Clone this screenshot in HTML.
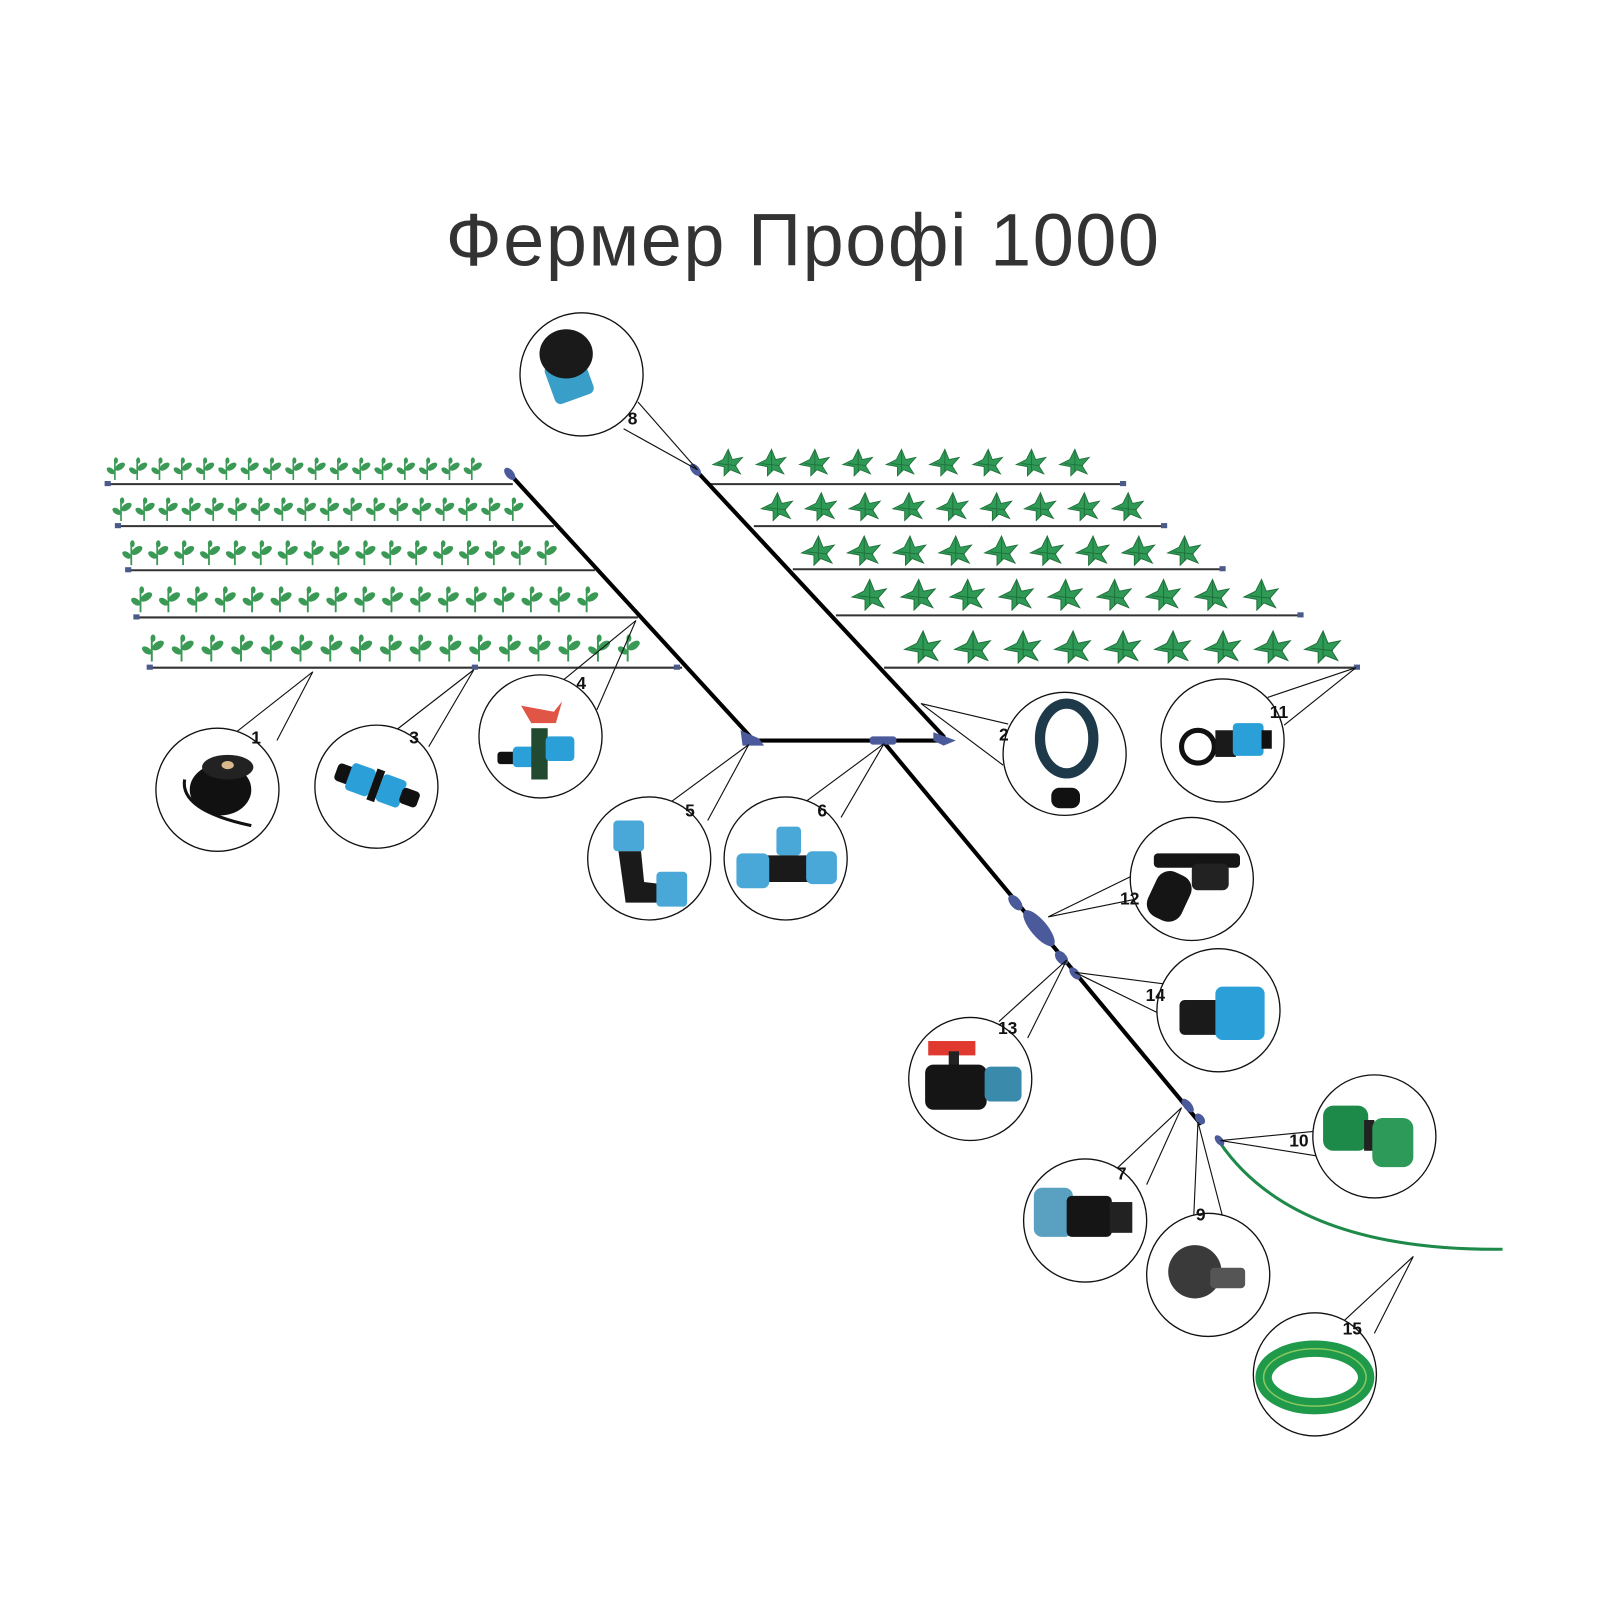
<!DOCTYPE html>
<html><head><meta charset="utf-8">
<style>
html,body{margin:0;padding:0;background:#fff;}
svg{display:block;}
text{font-family:"Liberation Sans",sans-serif;}
.num{font-weight:bold;font-size:17px;fill:#111;}
.co{fill:#fff;stroke:#111;stroke-width:1.3;}
.tl{stroke:#111;stroke-width:1.1;fill:none;}
</style></head><body>
<svg id="s" width="1600" height="1600" viewBox="0 0 1560 1560" xmlns="http://www.w3.org/2000/svg">
<defs>
<g id="sp">
<path d="M0 0 V-20" stroke="#3a9a55" stroke-width="1.6"/>
<ellipse cx="5" cy="-13" rx="5.5" ry="3" fill="#3a9a55" transform="rotate(-35 5 -13)"/>
<ellipse cx="-4" cy="-9" rx="4.5" ry="2.6" fill="#3a9a55" transform="rotate(35 -4 -9)"/>
<ellipse cx="1" cy="-19" rx="2" ry="3" fill="#3a9a55"/>
</g>
<g id="st">
<path d="M0 -14 L4 -4 L14 -6 L7 2 L12 10 L2 6 L-4 12 L-4 3 L-15 1 L-5 -4 Z" fill="#2e9a55" stroke="#1f6e3a" stroke-width="0.8"/>
<path d="M0 -12 L0 8 M-10 0 L8 2" stroke="#1f6e3a" stroke-width="0.8"/>
</g>
</defs>

<text x="783" y="259" text-anchor="middle" font-size="72" fill="#333" letter-spacing="1.5">Фермер Профі 1000</text>

<g id="plants"></g>

<g stroke="#333" stroke-width="2">
<line x1="105" y1="472" x2="500" y2="472"/>
<line x1="115" y1="513" x2="540" y2="513"/>
<line x1="125" y1="556" x2="580" y2="556"/>
<line x1="133" y1="602" x2="622" y2="602"/>
<line x1="146" y1="651" x2="665" y2="651"/>
<line x1="690" y1="472" x2="1095" y2="472"/>
<line x1="735" y1="513" x2="1135" y2="513"/>
<line x1="773" y1="555" x2="1192" y2="555"/>
<line x1="815" y1="600" x2="1268" y2="600"/>
<line x1="862" y1="651" x2="1325" y2="651"/>
</g>
<g fill="#4a5a8a">
<rect x="102" y="469" width="6" height="5"/><rect x="112" y="510" width="6" height="5"/><rect x="122" y="553" width="6" height="5"/><rect x="130" y="599" width="6" height="5"/><rect x="143" y="648" width="6" height="5"/>
<rect x="1092" y="469" width="6" height="5"/><rect x="1132" y="510" width="6" height="5"/><rect x="1189" y="552" width="6" height="5"/><rect x="1265" y="597" width="6" height="5"/><rect x="1320" y="648" width="6" height="5"/>
<rect x="460" y="648" width="6" height="5"/><rect x="657" y="648" width="6" height="5"/>
</g>

<g stroke="#000" stroke-width="4" stroke-linecap="round" fill="none">
<line x1="497" y1="462" x2="735" y2="722"/>
<line x1="735" y1="722" x2="925" y2="722"/>
<line x1="678" y1="458" x2="920" y2="718"/>
<line x1="862" y1="724" x2="1170" y2="1095"/>
</g>
<path d="M1188 1112 Q1260 1220 1465 1218" stroke="#1e8a4a" stroke-width="3" fill="none"/>
<g fill="#4a5a9a">
<ellipse cx="497" cy="462" rx="4" ry="7" transform="rotate(-40 497 462)"/>
<ellipse cx="678" cy="458" rx="4" ry="7" transform="rotate(-40 678 458)"/>
<path d="M722 712 L740 720 L745 727 L724 727 Z"/>
<rect x="848" y="718" width="26" height="8" rx="3"/>
<path d="M910 714 L932 722 L920 727 L910 722 Z"/>
<ellipse cx="990" cy="880" rx="5" ry="9" transform="rotate(-40 990 880)"/>
<ellipse cx="1013" cy="905" rx="8" ry="22" transform="rotate(-40 1013 905)"/>
<ellipse cx="1035" cy="934" rx="5" ry="8" transform="rotate(-40 1035 934)"/>
<ellipse cx="1048" cy="949" rx="4" ry="7" transform="rotate(-40 1048 949)"/>
<ellipse cx="1158" cy="1078" rx="4" ry="8" transform="rotate(-40 1158 1078)"/>
<ellipse cx="1170" cy="1091" rx="4" ry="6" transform="rotate(-40 1170 1091)"/>
<ellipse cx="1189" cy="1112" rx="3.5" ry="6" transform="rotate(-40 1189 1112)"/>
</g>

<g class="tl">
<path d="M608 418 L680 458 L622 392"/>
<path d="M230 714 L305 655 L270 722"/>
<path d="M386 712 L462 653 L418 728"/>
<path d="M548 664 L620 605 L582 692"/>
<path d="M654 782 L730 726 L690 800"/>
<path d="M785 782 L862 725 L820 797"/>
<path d="M983 706 L898 686 L978 746"/>
<path d="M1236 680 L1322 651 L1252 707"/>
<path d="M1112 850 L1022 894 L1106 877"/>
<path d="M1140 960 L1048 948 L1134 990"/>
<path d="M974 996 L1040 936 L1002 1012"/>
<path d="M1282 1103 L1190 1112 L1284 1127"/>
<path d="M1086 1142 L1152 1080 L1118 1155"/>
<path d="M1164 1184 L1168 1094 L1192 1186"/>
<path d="M1308 1290 L1378 1225 L1340 1300"/>
</g>

<g>
<circle class="co" cx="567" cy="365" r="60"/>
<circle class="co" cx="212" cy="770" r="60"/>
<circle class="co" cx="367" cy="767" r="60"/>
<circle class="co" cx="527" cy="718" r="60"/>
<circle class="co" cx="633" cy="837" r="60"/>
<circle class="co" cx="766" cy="837" r="60"/>
<circle class="co" cx="1038" cy="735" r="60"/>
<circle class="co" cx="1192" cy="722" r="60"/>
<circle class="co" cx="1162" cy="857" r="60"/>
<circle class="co" cx="1188" cy="985" r="60"/>
<circle class="co" cx="946" cy="1052" r="60"/>
<circle class="co" cx="1340" cy="1108" r="60"/>
<circle class="co" cx="1058" cy="1190" r="60"/>
<circle class="co" cx="1178" cy="1243" r="60"/>
<circle class="co" cx="1282" cy="1340" r="60"/>
</g>

<rect x="535" y="350" width="40" height="40" rx="6" fill="#3a9fc8" transform="rotate(-20 555 370)"/>
<ellipse cx="552" cy="345" rx="26" ry="24" fill="#1a1a1a"/>
<ellipse cx="215" cy="770" rx="30" ry="25" fill="#111"/>
<ellipse cx="222" cy="748" rx="25" ry="12" fill="#222"/>
<ellipse cx="222" cy="746" rx="6" ry="4" fill="#d9b98a"/>
<path d="M180 760 Q175 790 245 805" stroke="#111" stroke-width="3" fill="none"/>
<g transform="rotate(20 367 767)">
<rect x="325" y="757" width="18" height="18" rx="4" fill="#111"/>
<rect x="338" y="752" width="24" height="28" rx="4" fill="#2a9fd8"/>
<rect x="362" y="750" width="8" height="32" fill="#111"/>
<rect x="370" y="752" width="24" height="28" rx="4" fill="#2a9fd8"/>
<rect x="392" y="758" width="18" height="16" rx="4" fill="#111"/>
</g>
<rect x="485" y="733" width="22" height="12" rx="3" fill="#111"/>
<rect x="500" y="728" width="28" height="20" rx="4" fill="#2a9fd8"/>
<rect x="518" y="710" width="16" height="50" fill="#224a30"/>
<rect x="532" y="718" width="28" height="24" rx="4" fill="#2a9fd8"/>
<path d="M508 688 L540 694 L548 684 L542 705 L518 705 Z" fill="#e05545"/>
<rect x="598" y="800" width="30" height="30" rx="4" fill="#4aa8d8"/>
<path d="M603 830 L625 830 L628 860 L645 862 L645 880 L610 880 Z" fill="#1a1a1a"/>
<rect x="640" y="850" width="30" height="34" rx="4" fill="#4aa8d8"/>
<rect x="757" y="806" width="24" height="28" rx="4" fill="#4aa8d8"/>
<rect x="735" y="834" width="80" height="26" rx="4" fill="#1a1a1a"/>
<rect x="718" y="832" width="32" height="34" rx="6" fill="#4aa8d8"/>
<rect x="786" y="830" width="30" height="32" rx="6" fill="#4aa8d8"/>
<ellipse cx="1040" cy="720" rx="26" ry="34" fill="none" stroke="#1e3a4a" stroke-width="10"/>
<rect x="1025" y="768" width="28" height="20" rx="8" fill="#111"/>
<circle cx="1168" cy="728" r="16" fill="none" stroke="#111" stroke-width="5"/>
<rect x="1185" y="712" width="20" height="26" fill="#1a1a1a"/>
<rect x="1202" y="705" width="30" height="32" rx="4" fill="#2a9fd8"/>
<rect x="1230" y="712" width="10" height="18" fill="#111"/>
<rect x="1125" y="832" width="84" height="14" rx="4" fill="#151515"/>
<rect x="1122" y="850" width="36" height="48" rx="14" fill="#151515" transform="rotate(25 1140 874)"/>
<rect x="1162" y="842" width="36" height="26" rx="6" fill="#222"/>
<rect x="1150" y="975" width="40" height="34" rx="5" fill="#1a1a1a"/>
<rect x="1185" y="962" width="48" height="52" rx="7" fill="#2a9fd8"/>
<rect x="905" y="1015" width="46" height="14" fill="#e03a30"/>
<rect x="925" y="1025" width="10" height="14" fill="#222"/>
<rect x="902" y="1038" width="60" height="44" rx="8" fill="#151515"/>
<rect x="960" y="1040" width="36" height="34" rx="6" fill="#3a8aac"/>
<rect x="1290" y="1078" width="44" height="44" rx="10" fill="#1e8a4a"/>
<rect x="1330" y="1092" width="10" height="30" fill="#222"/>
<rect x="1338" y="1090" width="40" height="48" rx="10" fill="#2e9a5a"/>
<rect x="1008" y="1158" width="38" height="48" rx="8" fill="#5aa0c0"/>
<rect x="1040" y="1166" width="44" height="40" rx="5" fill="#151515"/>
<rect x="1082" y="1172" width="22" height="30" fill="#222"/>
<ellipse cx="1165" cy="1240" rx="26" ry="26" fill="#3a3a3a"/>
<rect x="1180" y="1236" width="34" height="20" rx="4" fill="#555"/>
<ellipse cx="1282" cy="1343" rx="50" ry="28" fill="none" stroke="#1e9a4a" stroke-width="16"/>
<ellipse cx="1282" cy="1343" rx="50" ry="28" fill="none" stroke="#8ac860" stroke-width="1.5"/>

<g class="num">
<text x="612" y="414">8</text><text x="245" y="725">1</text><text x="399" y="725">3</text><text x="562" y="672">4</text>
<text x="668" y="796">5</text><text x="797" y="796">6</text><text x="974" y="722">2</text><text x="1238" y="700">11</text>
<text x="1092" y="882">12</text><text x="1117" y="976">14</text><text x="973" y="1008">13</text><text x="1257" y="1118">10</text>
<text x="1089" y="1150">7</text><text x="1166" y="1190">9</text><text x="1309" y="1301">15</text>
</g>
</svg>
<script>
(function(){
var g=document.getElementById('plants'),ns='http://www.w3.org/2000/svg';
function put(id,x,y,s){var u=document.createElementNS(ns,'use');u.setAttributeNS('http://www.w3.org/1999/xlink','href','#'+id);u.setAttribute('href','#'+id);u.setAttribute('transform','translate('+x+','+y+') scale('+s+')');g.appendChild(u);}
var L=[[112,460,17,468,1],[118,500,18,508,1.05],[128,532,17,551,1.1],[137,572,17,597,1.15],[148,612,17,645,1.2]];
L.forEach(function(r){for(var i=0;i<r[2];i++)put('sp',r[0]+(r[1]-r[0])*i/(r[2]-1),r[3],r[4]);});
var R=[[710,1048,452,1],[758,1100,495,1.05],[798,1155,538,1.1],[848,1230,581,1.15],[900,1290,632,1.2]];
R.forEach(function(r){for(var i=0;i<9;i++)put('st',r[0]+(r[1]-r[0])*i/8,r[2],r[3]);});
})();
</script>
</body></html>
